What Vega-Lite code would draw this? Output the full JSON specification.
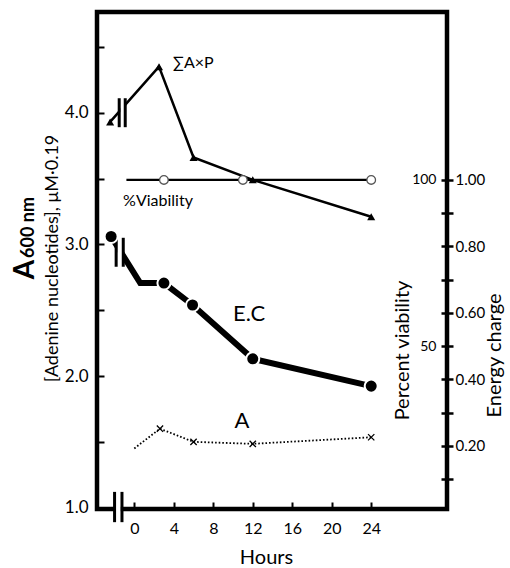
{
  "$schema": "https://vega.github.io/schema/vega-lite/v6.json",
  "width": 350,
  "height": 497,
  "autosize": {"type": "none"},
  "padding": {"left": 97, "top": 12, "right": 63, "bottom": 59},
  "background": "white",
  "config": {
    "view": {"stroke": "black", "strokeWidth": 4.5},
    "font": "Lato",
    "axis": {"domain": false, "grid": false, "labelFont": "Lato", "titleFont": "Lato", "labelColor": "black", "titleColor": "black", "tickColor": "black", "titleFontWeight": "normal", "labelFlush": false, "labelOverlap": false}
  },
  "datasets": {
    "sumAxP": [
      {"hour": -2.45, "a": 3.93},
      {"hour": 2.5, "a": 4.35},
      {"hour": 6, "a": 3.66},
      {"hour": 12, "a": 3.49},
      {"hour": 24, "a": 3.21}
    ],
    "viability": [
      {"hour": -0.8, "pct": 100},
      {"hour": 3, "pct": 100},
      {"hour": 11, "pct": 100},
      {"hour": 24, "pct": 100}
    ],
    "ec": [
      {"hour": -2.35, "ec": 0.83},
      {"hour": 0.6, "ec": 0.69},
      {"hour": 3, "ec": 0.69},
      {"hour": 5.9, "ec": 0.624},
      {"hour": 12, "ec": 0.462},
      {"hour": 24, "ec": 0.38}
    ],
    "adenine": [
      {"hour": 0, "a": 1.45},
      {"hour": 2.6, "a": 1.6},
      {"hour": 6, "a": 1.5},
      {"hour": 12, "a": 1.485},
      {"hour": 24, "a": 1.535}
    ],
    "breaks": [
      {"hour": -2.0, "a": 0.89, "a2": 1.12},
      {"hour": -1.25, "a": 0.89, "a2": 1.12},
      {"hour": -1.53, "a": 3.89, "a2": 4.11},
      {"hour": -0.92, "a": 3.89, "a2": 4.11},
      {"hour": -1.84, "a": 2.83, "a2": 3.05},
      {"hour": -1.12, "a": 2.83, "a2": 3.05}
    ],
    "gaps": [
      {"hour": -1.88, "hour2": -1.37, "a": 0.95, "a2": 1.05},
      {"hour": -1.42, "hour2": -1.03, "a": 3.9, "a2": 4.1},
      {"hour": -1.73, "hour2": -1.23, "a": 2.84, "a2": 3.04}
    ]
  },
  "encoding": {
    "x": {
      "field": "hour", "type": "quantitative",
      "scale": {"domain": [-3.78, 31.68], "nice": false, "zero": false},
      "axis": {"values": [0, 4, 8, 12, 16, 20, 24], "tickSize": -7, "tickWidth": 2, "labelFontSize": 16, "labelPadding": 18, "title": "Hours", "titleFontSize": 20, "titleX": 169, "titleY": 54, "titleBaseline": "alphabetic", "titleAlign": "center"}
    }
  },
  "layer": [
    {
      "data": {"name": "sumAxP"},
      "mark": {"type": "line", "color": "black", "strokeWidth": 2.5},
      "encoding": {
        "y": {"field": "a", "type": "quantitative", "scale": {"domain": [0.99, 4.765], "nice": false, "zero": false},
          "axis": {"orient": "left", "values": [1, 1.5, 2, 2.5, 3, 3.5, 4, 4.5], "format": ".1f", "labelExpr": "datum.value % 1 == 0 ? datum.label : ''", "tickSize": -7, "tickWidth": 2, "labelFontSize": 17, "labelPadding": 16, "title": "[Adenine nucleotides], μM·0.19", "titleFontSize": 18, "titleAngle": 270, "titleX": -40, "titleY": 246, "titleBaseline": "alphabetic", "titleAlign": "center"}}
      }
    },
    {
      "data": {"name": "viability"},
      "mark": {"type": "line", "color": "black", "strokeWidth": 2.3},
      "encoding": {
        "y": {"field": "pct", "type": "quantitative", "scale": {"domain": [1.05, 150.5], "nice": false, "zero": false},
          "axis": {"orient": "left", "offset": -350, "values": [10, 20, 30, 40, 50, 60, 70, 80, 90, 100], "labelExpr": "datum.value == 50 || datum.value == 100 ? datum.label : ''", "tickSize": 6, "tickWidth": 2.5, "labelFontSize": 14, "labelPadding": 5, "title": "Percent viability", "titleFontSize": 20, "titleAngle": 270, "titleX": -39, "titleY": 338, "titleBaseline": "alphabetic", "titleAlign": "center"}}
      }
    },
    {
      "data": {"name": "ec"},
      "mark": {"type": "line", "color": "black", "strokeWidth": 6},
      "encoding": {
        "y": {"field": "ec", "type": "quantitative", "scale": {"domain": [0.0105, 1.505], "nice": false, "zero": false},
          "axis": {"orient": "right", "values": [0.1, 0.2, 0.3, 0.4, 0.5, 0.6, 0.7, 0.8, 0.9, 1.0], "format": ".2f", "labelExpr": "round(datum.value * 10) % 2 == 0 ? datum.label : ''", "tickSize": 6, "tickWidth": 2.5, "labelFontSize": 15, "labelPadding": 2, "title": "Energy charge", "titleFontSize": 20, "titleAngle": 270, "titleX": 53, "titleY": 343, "titleBaseline": "alphabetic", "titleAlign": "center"}}
      }
    },
    {
      "data": {"name": "adenine"},
      "mark": {"type": "line", "color": "black", "strokeWidth": 1.8, "strokeDash": [1.6, 2]},
      "encoding": {
        "y": {"field": "a", "type": "quantitative", "scale": {"domain": [0.99, 4.765], "nice": false, "zero": false},
          "axis": {"orient": "left", "labels": false, "ticks": false, "title": "600 nm", "titleFontSize": 18, "titleFontWeight": "bold", "titleAngle": 270, "titleX": -64, "titleY": 215, "titleBaseline": "alphabetic", "titleAlign": "center"}}
      }
    },
    {
      "data": {"name": "gaps"},
      "mark": {"type": "rect", "color": "white"},
      "encoding": {
        "x2": {"field": "hour2"},
        "y": {"field": "a", "type": "quantitative", "scale": {"domain": [0.99, 4.765], "nice": false, "zero": false}, "axis": null},
        "y2": {"field": "a2"}
      }
    },
    {
      "data": {"name": "breaks"},
      "mark": {"type": "rule", "color": "black", "strokeWidth": 3},
      "encoding": {
        "y": {"field": "a", "type": "quantitative", "scale": {"domain": [0.99, 4.765], "nice": false, "zero": false}, "axis": null},
        "y2": {"field": "a2"}
      }
    },
    {
      "data": {"name": "viability"},
      "transform": [{"filter": "datum.hour >= 0"}],
      "mark": {"type": "point", "shape": "circle", "filled": true, "fill": "white", "stroke": "#555555", "strokeWidth": 1.3, "size": 75, "opacity": 1},
      "encoding": {
        "y": {"field": "pct", "type": "quantitative", "scale": {"domain": [1.05, 150.5], "nice": false, "zero": false}, "axis": null}
      }
    },
    {
      "data": {"name": "sumAxP"},
      "mark": {"type": "point", "shape": "triangle-up", "filled": true, "color": "black", "size": 65, "opacity": 1},
      "encoding": {
        "y": {"field": "a", "type": "quantitative", "scale": {"domain": [0.99, 4.765], "nice": false, "zero": false},
          "axis": {"orient": "left", "labels": false, "ticks": false, "title": "A", "titleFontSize": 28, "titleFontWeight": "bold", "titleAngle": 270, "titleX": -64, "titleY": 257, "titleBaseline": "alphabetic", "titleAlign": "center"}}
      }
    },
    {
      "data": {"name": "ec"},
      "transform": [{"filter": "datum.hour != 0.6"}],
      "mark": {"type": "point", "shape": "circle", "filled": true, "fill": "black", "stroke": "white", "strokeWidth": 2, "size": 170, "opacity": 1},
      "encoding": {
        "y": {"field": "ec", "type": "quantitative", "scale": {"domain": [0.0105, 1.505], "nice": false, "zero": false}, "axis": null}
      }
    },
    {
      "data": {"name": "adenine"},
      "transform": [{"filter": "datum.hour > 0"}],
      "mark": {"type": "point", "shape": "M-1,-1L1,1M1,-1L-1,1", "filled": false, "stroke": "black", "strokeWidth": 1.3, "size": 40, "opacity": 1},
      "encoding": {
        "y": {"field": "a", "type": "quantitative", "scale": {"domain": [0.99, 4.765], "nice": false, "zero": false}, "axis": null}
      }
    },
    {
      "data": {"values": [{"hour": 3.92, "a": 4.38, "label": "∑A×P"}]},
      "mark": {"type": "text", "align": "left", "baseline": "middle", "fontSize": 16, "font": "Lato", "color": "black"},
      "encoding": {
        "y": {"field": "a", "type": "quantitative", "scale": {"domain": [0.99, 4.765], "nice": false, "zero": false}, "axis": null},
        "text": {"field": "label"}
      }
    },
    {
      "data": {"values": [{"hour": -1.14, "a": 3.326, "label": "%Viability"}]},
      "mark": {"type": "text", "align": "left", "baseline": "middle", "fontSize": 16, "font": "Lato", "color": "black"},
      "encoding": {
        "y": {"field": "a", "type": "quantitative", "scale": {"domain": [0.99, 4.765], "nice": false, "zero": false}, "axis": null},
        "text": {"field": "label"}
      }
    },
    {
      "data": {"values": [{"hour": 10.0, "a": 2.47, "label": "E.C"}]},
      "mark": {"type": "text", "align": "left", "baseline": "middle", "fontSize": 22, "font": "Lato", "color": "black"},
      "encoding": {
        "y": {"field": "a", "type": "quantitative", "scale": {"domain": [0.99, 4.765], "nice": false, "zero": false}, "axis": null},
        "text": {"field": "label"}
      }
    },
    {
      "data": {"values": [{"hour": 10.9, "a": 1.66, "label": "A"}]},
      "mark": {"type": "text", "align": "center", "baseline": "middle", "fontSize": 22, "font": "Lato", "color": "black"},
      "encoding": {
        "y": {"field": "a", "type": "quantitative", "scale": {"domain": [0.99, 4.765], "nice": false, "zero": false}, "axis": null},
        "text": {"field": "label"}
      }
    }
  ],
  "resolve": {"scale": {"y": "independent"}, "axis": {"y": "independent"}}
}
